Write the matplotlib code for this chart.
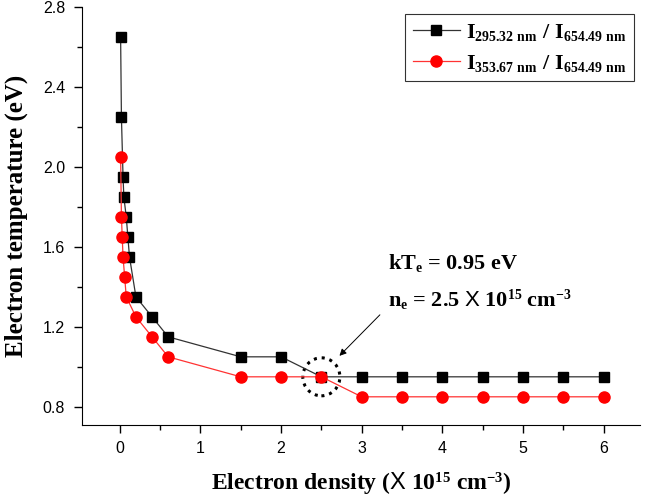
import matplotlib
matplotlib.use("Agg")
import matplotlib.pyplot as plt
import matplotlib._mathtext as mt
from matplotlib.patches import Ellipse
from matplotlib.ticker import MultipleLocator, FormatStrFormatter

plt.rcParams['mathtext.fontset'] = 'custom'
plt.rcParams['mathtext.rm'] = 'Liberation Serif:bold'
plt.rcParams['mathtext.it'] = 'Liberation Serif:bold'
plt.rcParams['mathtext.bf'] = 'Liberation Serif:bold'
plt.rcParams['mathtext.sf'] = 'Liberation Sans'
# smaller sub/superscripts, like the original figure
mt.SHRINK_FACTOR = 0.62

# I(295.32 nm) / I(654.49 nm)
x_black = [0.01, 0.02, 0.04, 0.05, 0.08, 0.10, 0.12, 0.2, 0.4, 0.6, 1.5, 2.0, 2.5, 3.0, 3.5, 4.0, 4.5, 5.0, 5.5, 6.0]
y_black = [2.65, 2.25, 1.95, 1.85, 1.75, 1.65, 1.55, 1.35, 1.25, 1.15, 1.05, 1.05, 0.95, 0.95, 0.95, 0.95, 0.95, 0.95, 0.95, 0.95]

# I(353.67 nm) / I(654.49 nm)
x_red = [0.01, 0.02, 0.03, 0.04, 0.06, 0.08, 0.2, 0.4, 0.6, 1.5, 2.0, 2.5, 3.0, 3.5, 4.0, 4.5, 5.0, 5.5, 6.0]
y_red = [2.05, 1.75, 1.65, 1.55, 1.45, 1.35, 1.25, 1.15, 1.05, 0.95, 0.95, 0.95, 0.85, 0.85, 0.85, 0.85, 0.85, 0.85, 0.85]

label_black = r'$\mathrm{I_{295.32\ nm}\ /\ I_{654.49\ nm}}$'
label_red = r'$\mathrm{I_{353.67\ nm}\ /\ I_{654.49\ nm}}$'

fig = plt.figure(figsize=(6.45, 4.98), dpi=100)
ax = fig.add_axes([0.127, 0.147, 0.865, 0.839])

ax.plot(x_black, y_black, color='#333333', lw=0.9, marker='s', ms=7,
        mfc='black', mec='black', label=label_black)
ax.plot(x_red, y_red, color='#ff3333', lw=0.9, marker='o', ms=8,
        mfc='red', mec='red', label=label_red)

ax.set_xlim(-0.47, 6.45)
ax.set_ylim(0.71, 2.8)
ax.xaxis.set_major_locator(MultipleLocator(1))
ax.xaxis.set_minor_locator(MultipleLocator(0.5))
ax.yaxis.set_major_locator(MultipleLocator(0.4))
ax.yaxis.set_minor_locator(MultipleLocator(0.2))
ax.yaxis.set_major_formatter(FormatStrFormatter('%.1f'))
ax.tick_params(which='major', direction='out', length=6, width=1,
               labelsize=11.5, pad=6)
ax.tick_params(which='minor', direction='out', length=3.5, width=1)
for lab in ax.get_xticklabels() + ax.get_yticklabels():
    lab.set_family('Liberation Sans')
ax.spines['top'].set_visible(False)
ax.spines['right'].set_visible(False)

ax.set_xlabel(r'Electron density ($\mathsf{X}$ 10$^{\mathrm{15}}$ cm$^{\mathrm{-3}}$)',
              family='Liberation Serif', weight='bold', fontsize=17, labelpad=10)
ax.set_ylabel('Electron temperature (eV)', family='Liberation Serif',
              weight='bold', fontsize=18, labelpad=11)

leg = ax.legend(loc='upper right', bbox_to_anchor=(1.01, 1.01), fontsize=16,
                frameon=True, fancybox=False, edgecolor='black',
                handlelength=2.1, handletextpad=0.3, borderpad=0.35,
                labelspacing=0.45)
leg.get_frame().set_linewidth(0.8)

ax.text(3.33, 1.52, r'kT$_{\mathrm{e}}$ = 0.95 eV', family='Liberation Serif',
        weight='bold', fontsize=16, va='center')
ax.text(3.33, 1.335, r'n$_{\mathrm{e}}$ = 2.5 $\mathsf{X}$ 10$^{\mathrm{15}}$ cm$^{\mathrm{-3}}$',
        family='Liberation Serif', weight='bold', fontsize=16, va='center')

ax.add_patch(Ellipse((2.5, 0.95), 0.46, 0.19, fill=False, ec='black',
                     lw=2.2, ls=(0, (1, 1.6))))
ax.annotate('', xy=(2.7, 1.045), xytext=(3.25, 1.27),
            arrowprops=dict(arrowstyle='-|>', color='black', lw=0.7,
                            mutation_scale=10))

fig.savefig('out.png', dpi=100)
